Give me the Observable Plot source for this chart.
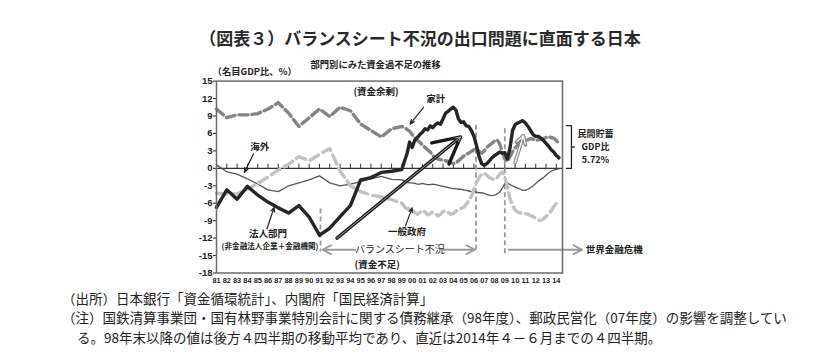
<!DOCTYPE html>
<html><head><meta charset="utf-8">
<script src="https://cdn.jsdelivr.net/npm/d3@7"></script>
<script src="https://cdn.jsdelivr.net/npm/@observablehq/plot@0.6"></script>
<style>
body{margin:0;background:#fff;}
#wrap{position:relative;width:840px;height:358px;overflow:hidden;font-family:"Noto Sans CJK JP","Noto Sans",sans-serif;color:#222;background:#fff;}
#title{position:absolute;top:28px;left:0;width:840px;text-align:center;font-size:17px;font-weight:bold;line-height:20px;color:#2a2a2a;white-space:nowrap;}
#chart{position:absolute;top:58px;left:0;}
.note{position:absolute;left:62px;font-size:13.5px;line-height:16px;white-space:nowrap;color:#222;}
#chart svg g[aria-label^="y-axis"] text{font-size:9.5px;font-weight:bold;font-family:"Liberation Sans",Arial,sans-serif;fill:#222;}
#chart svg g[aria-label^="x-axis"] text{font-size:7.3px;font-weight:bold;font-family:"Liberation Sans",Arial,sans-serif;fill:#222;}
</style></head>
<body><div id="wrap">
<div id="title">（図表３）バランスシート不況の出口問題に直面する日本</div>
<div id="chart"></div>
<div class="note" style="top:290px">（出所）日本銀行「資金循環統計」、内閣府「国民経済計算」</div>
<div class="note" style="top:309px">（注）国鉄清算事業団・国有林野事業特別会計に関する債務継承（98年度）、郵政民営化（07年度）の影響を調整してい</div>
<div class="note" style="top:329px;left:77px">る。98年末以降の値は後方４四半期の移動平均であり、直近は2014年４－６月までの４四半期。</div>
</div>
<script>
// ---- time axes ----
const annualYears = [1981,1982,1983,1984,1985,1986,1987,1988,1989,1990,1991,1992,1993,1994,1995,1996,1997,1998];
const quarterYears = [1999,1999.25,1999.5,1999.75,2000,2000.25,2000.5,2000.75,2001,2001.25,2001.5,2001.75,2002,2002.25,2002.5,2002.75,2003,2003.25,2003.5,2003.75,2004,2004.25,2004.5,2004.75,2005,2005.25,2005.5,2005.75,2006,2006.25,2006.5,2006.75,2007,2007.25,2007.5,2007.75,2008,2008.25,2008.5,2008.75,2009,2009.25,2009.5,2009.75,2010,2010.25,2010.5,2010.75,2011,2011.25,2011.5,2011.75,2012,2012.25,2012.5,2012.75,2013,2013.25,2013.5,2013.75,2014,2014.25];

// ---- tick labels ----
const tickYears = [1981,1982,1983,1984,1985,1986,1987,1988,1989,1990,1991,1992,1993,1994,1995,1996,1997,1998,1999,2000,2001,2002,2003,2004,2005,2006,2007,2008,2009,2010,2011,2012,2013,2014];
const tickLabels = ["81","82","83","84","85","86","87","88","89","90","91","92","93","94","95","96","97","98","99","00","01","02","03","04","05","06","07","08","09","10","11","12","13","14"];
const yTicks = [-18,-15,-12,-9,-6,-3,0,3,6,9,12,15];

// ---- series (% of nominal GDP) ----
const householdAnnual = [10.2,8.7,9.2,9.2,9.4,10.2,11.3,9.5,7.2,8.7,10.2,8.9,10.5,9.9,7.6,6.5,5.4,6.8];
const householdQuarterly = [7.2,7.0,6.7,6.4, 5.8,5.3,4.8,4.5, 4.0,3.6,3.2,2.8, 2.2,1.8,1.6,1.5, 1.4,1.3,1.2,1.0, 0.8,0.9,1.3,1.7, 2.1,2.4,2.6,2.9, 3.2,3.4,2.9,2.6, 3.0,3.6,4.0,4.3, 4.7,4.9,4.2,2.8, 1.6,1.2,2.0,2.9, 3.5,4.0,4.5,4.7, 4.8,4.9,5.1,5.0, 4.8,4.9,5.0,5.1, 5.3,5.4,5.3,5.2, 4.8,4.2];

const corporateAnnual = [-6.7,-3.7,-5.3,-3.1,-4.6,-5.8,-6.8,-7.7,-6.4,-8.4,-11.5,-10.3,-8.3,-6.4,-2.0,-1.6,-0.7,-0.5];
const corporateQuarterly = [-0.2,1.2,2.5,4.5, 3.6,4.8,5.3,5.8, 6.2,6.8,6.6,7.3, 7.0,7.5,7.8,7.6, 8.5,9.5,9.8,10.2, 10.5,10.0,8.5,7.9, 8.0,7.3,7.2,6.5, 5.5,3.9,2.0,0.8, 0.5,0.8,1.3,1.8, 2.2,2.5,2.8,2.6, 2.7,1.6,3.5,6.5, 7.5,7.8,8.0,8.2, 7.8,7.2,6.5,5.8, 5.5,5.5,5.2,4.8, 4.3,3.8,3.2,2.8, 2.2,1.8];

const governmentAnnual = [-4.3,-4.4,-4.4,-3.6,-2.6,-1.5,-0.3,0.7,2.0,1.3,2.4,3.4,-0.5,-3.0,-4.0,-4.6,-4.9,-5.4];
const governmentQuarterly = [-6.0,-6.6,-7.0,-6.8, -7.2,-7.6,-7.9,-7.6, -7.2,-7.5,-8.0,-7.8, -7.5,-7.8,-8.2,-7.9, -7.4,-7.3,-7.6,-7.9, -7.8,-7.4,-7.0,-6.9, -6.7,-6.2,-5.6,-4.8, -3.6,-2.4,-1.6,-1.0, -0.8,-1.2,-1.6,-1.8, -2.0,-1.6,-1.0,-0.6, -1.5,-3.2,-5.2,-6.4, -7.2,-7.5,-7.7,-7.6, -7.8,-7.9,-8.1,-8.3, -8.6,-8.9,-9.0,-8.7, -8.3,-7.9,-7.3,-6.6, -6.0,-5.5];

const overseasAnnual = [0.6,-0.6,-1.0,-1.8,-2.7,-3.7,-4.0,-3.0,-2.5,-2.0,-1.3,-2.5,-3.0,-2.7,-2.3,-1.8,-1.4,-1.9];
const overseasQuarterly = [-2.0,-2.2,-2.4,-2.5, -2.5,-2.6,-2.7,-2.7, -2.6,-2.7,-2.8,-2.8, -2.7,-2.8,-2.9,-3.0, -3.1,-3.2,-3.3,-3.4, -3.5,-3.5,-3.6,-3.6, -3.7,-3.8,-3.9,-4.0, -4.0,-4.1,-4.2,-4.2, -4.3,-4.5,-4.6,-4.7, -4.6,-4.4,-4.1,-3.4, -2.6,-2.5,-2.8,-3.0, -3.2,-3.4,-3.6,-3.8, -3.8,-3.6,-3.3,-3.0, -2.6,-2.2,-1.9,-1.6, -1.2,-0.8,-0.5,-0.3, -0.2,-0.1];

// ---- annotations ----
const eventLines = [{t:1991.1,y1:-7.0,y2:-14.4},{t:2006.2,y1:7.4,y2:-14.5},{t:2009.0,y1:6.8,y2:-15.0}];
const periodArrows = [{x1:1994.5,x2:1991.3,y:-14},{x1:2003.0,x2:2006.1,y:-14},{x1:2009.4,x2:2016.5,y:-14}];
const bigArrow = [{x1:1992.7,y1:-12.0,x2:2004.7,y2:5.4}];
const smallArrow = [{x1:2010.0,y1:1.0,x2:2010.8,y2:5.6}];
const labelArrows = [
  {x1:2001.1,y1:10.5,x2:1999.8,y2:7.6},
  {x1:1984.6,y1:2.5,x2:1983.7,y2:-0.7},
  {x1:1985.9,y1:-10.4,x2:1986.6,y2:-6.7},
  {x1:1999.35,y1:-9.9,x2:2000.0,y2:-6.8}
];
const boldLabels = [
  {t:1996.5,v:13.1,text:"(資金余剰)"},
  {t:1996.6,v:-16.7,text:"(資金不足)"},
  {t:2002.3,v:11.9,text:"家計"},
  {t:1985.2,v:3.6,text:"海外"},
  {t:1986.0,v:-11.3,text:"法人部門"},
  {t:1999.5,v:-11.0,text:"一般政府"}
];
const savingLabels = [
  {t:2017.8,v:5.96,text:"民間貯蓄"},
  {t:2017.8,v:3.66,text:"GDP比"},
  {t:2017.8,v:1.36,text:"5.72%"}
];
const smallLabels = [{t:1986.2,v:-13.4,text:"(非金融法人企業＋金融機関)"}];
const periodLabels = [{t:1998.8,v:-14,text:"バランスシート不況"}];
const crisisLabels = [{t:2016.85,v:-14,text:"世界金融危機"}];
const headerLabels = [
  {t:1980.62,v:16.55,text:"（名目GDP比、%）"},
  {t:1990.13,v:17.7,text:"部門別にみた資金過不足の推移"}
];
const bracket = [{t:2014.98,v:7.36},{t:2015.47,v:7.36},{t:2015.47,v:0},{t:2014.98,v:0}];
const bracketMid = [{x1:2015.47,x2:2015.85,v:3.66}];

function build(name, a, q){
  return annualYears.map((t,i)=>({sector:name,t,v:a[i]}))
    .concat(quarterYears.map((t,i)=>({sector:name,t,v:q[i]})));
}
const household = build("家計", householdAnnual, householdQuarterly);
const corporate = build("法人部門", corporateAnnual, corporateQuarterly);
const government = build("一般政府", governmentAnnual, governmentQuarterly);
const overseas = build("海外", overseasAnnual, overseasQuarterly);

const jp = "Noto Sans CJK JP, Noto Sans, sans-serif";

const chart = Plot.plot({
  width: 840,
  height: 232,
  marginLeft: 216,
  marginRight: 278,
  marginTop: 22.6,
  marginBottom: 17.5,
  style: {background: "#fff", color: "#222", fontFamily: jp, overflow: "visible"},
  x: {domain: [1981, 2014.6], ticks: tickYears, tickFormat: d => tickLabels[tickYears.indexOf(d)], tickSize: 0, tickPadding: 5, label: null},
  y: {domain: [-18, 15], ticks: yTicks, tickFormat: d => String(d), tickSize: 3, tickPadding: 1, label: null},
  marks: [
    Plot.ruleY([0], {stroke: "#333", strokeWidth: 1.4}),
    Plot.ruleX(tickYears, {x: d => d, y1: -0.15, y2: 0.7, stroke: "#333", strokeWidth: 1}),
    Plot.ruleX(eventLines, {x: "t", y1: "y1", y2: "y2", stroke: "#9a9a9a", strokeWidth: 1.8, strokeDasharray: "5,3"}),
    Plot.line(overseas, {x: "t", y: "v", stroke: "#555", strokeWidth: 1.3, strokeLinejoin: "round"}),
    Plot.line(government, {x: "t", y: "v", stroke: "#c2c2c2", strokeWidth: 3.4, strokeDasharray: "10,5", strokeLinejoin: "round"}),
    Plot.line(household, {x: "t", y: "v", stroke: "#858585", strokeWidth: 3.4, strokeDasharray: "9,4", strokeLinejoin: "round"}),
    Plot.line(corporate, {x: "t", y: "v", stroke: "#262626", strokeWidth: 3.4, strokeLinejoin: "round"}),
    Plot.arrow(bigArrow, {x1: "x1", y1: "y1", x2: "x2", y2: "y2", stroke: "#1a1a1a", strokeWidth: 3.4, headLength: 13, headAngle: 55}),
    Plot.arrow(bigArrow, {x1: "x1", y1: "y1", x2: "x2", y2: "y2", stroke: "#fff", strokeWidth: 0.6, headLength: 13, headAngle: 55}),
    Plot.arrow(smallArrow, {x1: "x1", y1: "y1", x2: "x2", y2: "y2", stroke: "#808080", strokeWidth: 3.6, headLength: 10, headAngle: 60}),
    Plot.arrow(smallArrow, {x1: "x1", y1: "y1", x2: "x2", y2: "y2", stroke: "#fff", strokeWidth: 1.3, headLength: 10, headAngle: 60}),
    Plot.arrow(labelArrows, {x1: "x1", y1: "y1", x2: "x2", y2: "y2", stroke: "#222", strokeWidth: 1.2, headLength: 6, headAngle: 45}),
    Plot.arrow(periodArrows, {x1: "x1", y1: "y", x2: "x2", y2: "y", stroke: "#9a9a9a", strokeWidth: 1.8, headLength: 8, headAngle: 55}),
    Plot.line(bracket, {x: "t", y: "v", stroke: "#222", strokeWidth: 1.3}),
    Plot.ruleY(bracketMid, {x1: "x1", x2: "x2", y: "v", stroke: "#222", strokeWidth: 1.3}),
    Plot.text(boldLabels, {x: "t", y: "v", text: "text", fontSize: 9.5, fontWeight: "bold", fill: "#222", fontFamily: jp}),
    Plot.text(savingLabels, {x: "t", y: "v", text: "text", fontSize: 9, fontWeight: "bold", fill: "#222", fontFamily: jp}),
    Plot.text(smallLabels, {x: "t", y: "v", text: "text", fontSize: 7.6, fontWeight: "bold", fill: "#222", fontFamily: jp}),
    Plot.text(periodLabels, {x: "t", y: "v", text: "text", fontSize: 10, fill: "#222", fontFamily: jp}),
    Plot.text(crisisLabels, {x: "t", y: "v", text: "text", fontSize: 9.5, fontWeight: "bold", textAnchor: "start", fill: "#222", fontFamily: jp}),
    Plot.text(headerLabels, {x: "t", y: "v", text: "text", fontSize: 9.3, fontWeight: "bold", textAnchor: "start", fill: "#222", fontFamily: jp}),
    Plot.frame({stroke: "#6a6a6a", strokeWidth: 1.5})
  ]
});
document.getElementById("chart").appendChild(chart);
</script>
</body></html>
